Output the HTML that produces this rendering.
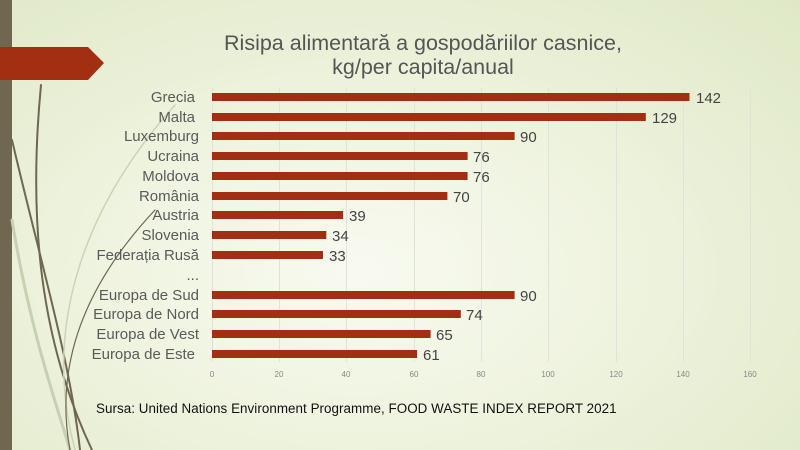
<!DOCTYPE html>
<html><head><meta charset="utf-8"><style>
html,body{margin:0;padding:0;}
body{width:800px;height:450px;overflow:hidden;background:radial-gradient(ellipse at 45% 60%,#f8faf0 0%,#eef3de 45%,#dfe8c6 100%);font-family:"Liberation Sans",sans-serif;}
</style></head><body>
<svg width="800" height="450" xmlns="http://www.w3.org/2000/svg" style="position:absolute;left:0;top:0">
<rect x="0" y="0" width="12" height="450" fill="#6f6750"/>
<g fill="none" stroke-linecap="round">
<path d="M12 140 C40 260 70 360 80 450" stroke="#6f6750" stroke-width="2"/>
<path d="M41 85 C28 220 40 340 92 450" stroke="#6f6750" stroke-width="2"/>
<path d="M12 220 C30 330 55 400 70 450" stroke="#c9cfb3" stroke-width="3"/>
<path d="M175 105 C90 200 40 320 75 450" stroke="#cdd3b8" stroke-width="1.5"/>
<path d="M155 210 C80 290 55 370 70 450" stroke="#6f6750" stroke-width="1.2"/>
</g>
<polygon points="0,47 88,47 104,63 88,80 0,80" fill="#a32f12"/>
<text x="423" y="50" text-anchor="middle" font-size="21.5" fill="#555">Risipa alimentară a gospodăriilor casnice,</text>
<text x="423" y="74" text-anchor="middle" font-size="21.5" fill="#555">kg/per capita/anual</text>
<g stroke="#e2e2da" stroke-width="1">
<line x1="212.5" y1="88" x2="212.5" y2="362"/>
<line x1="279.5" y1="88" x2="279.5" y2="362"/><line x1="346.5" y1="88" x2="346.5" y2="362"/>
<line x1="414.5" y1="88" x2="414.5" y2="362"/><line x1="481.5" y1="88" x2="481.5" y2="362"/>
<line x1="548.5" y1="88" x2="548.5" y2="362"/><line x1="616.5" y1="88" x2="616.5" y2="362"/>
<line x1="683.5" y1="88" x2="683.5" y2="362"/><line x1="750.5" y1="88" x2="750.5" y2="362"/>
</g>
<g font-size="8" fill="#888" text-anchor="middle">
<text x="212" y="377">0</text><text x="279" y="377">20</text><text x="346" y="377">40</text><text x="414" y="377">60</text><text x="481" y="377">80</text><text x="548" y="377">100</text><text x="616" y="377">120</text><text x="683" y="377">140</text><text x="750" y="377">160</text>
</g>
<g fill="#a32f12">
<rect x="212" y="93" width="477.5" height="8"/>
<rect x="212" y="113" width="433.8" height="8"/>
<rect x="212" y="132" width="302.6" height="8"/>
<rect x="212" y="152" width="255.6" height="8"/>
<rect x="212" y="172" width="255.6" height="8"/>
<rect x="212" y="192" width="235.4" height="8"/>
<rect x="212" y="211" width="131.1" height="8"/>
<rect x="212" y="231" width="114.3" height="8"/>
<rect x="212" y="251" width="111" height="8"/>
<rect x="212" y="291" width="302.6" height="8"/>
<rect x="212" y="310" width="248.8" height="8"/>
<rect x="212" y="330" width="218.6" height="8"/>
<rect x="212" y="350" width="205.1" height="8"/>
</g>
<g font-size="15" fill="#444">
<text x="696" y="103">142</text><text x="652" y="123">129</text><text x="520" y="142">90</text>
<text x="473" y="162">76</text><text x="473" y="182">76</text><text x="453" y="202">70</text>
<text x="349" y="221">39</text><text x="332" y="241">34</text><text x="329" y="261">33</text>
<text x="520" y="301">90</text><text x="466" y="320">74</text><text x="436" y="340">65</text><text x="423" y="360">61</text>
</g>
<g font-size="15" fill="#5a5a5a" text-anchor="end">
<text x="195" y="102">Grecia</text><text x="195" y="122">Malta</text><text x="199" y="141">Luxemburg</text>
<text x="199" y="161">Ucraina</text><text x="199" y="181">Moldova</text><text x="199" y="201">România</text>
<text x="199" y="220">Austria</text><text x="199" y="240">Slovenia</text><text x="199" y="260">Federația Rusă</text>
<text x="199" y="280">...</text><text x="199" y="300">Europa de Sud</text><text x="199" y="319">Europa de Nord</text>
<text x="199" y="339">Europa de Vest</text><text x="195" y="359">Europa de Este</text>
</g>
<text x="96" y="413" font-size="13.4" fill="#111" letter-spacing="0.05">Sursa: United Nations Environment Programme, FOOD WASTE INDEX REPORT 2021</text>
</svg>
</body></html>
